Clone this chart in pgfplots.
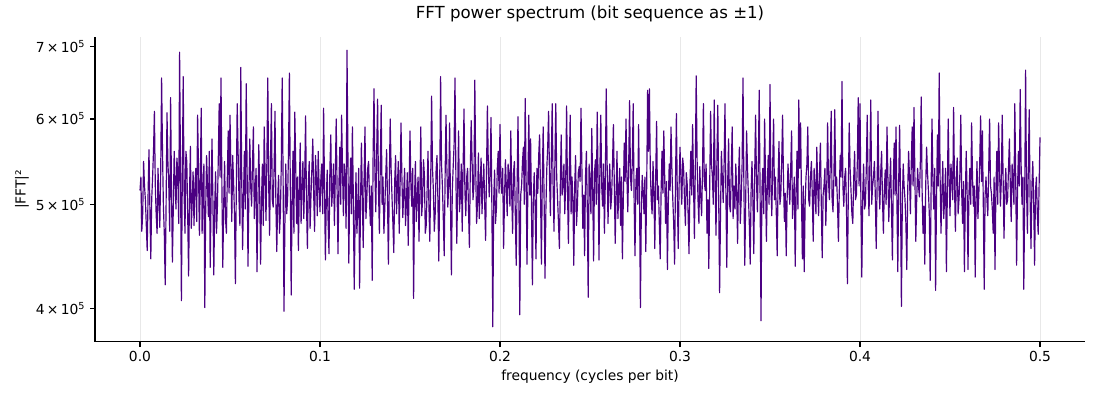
\documentclass[border=0pt]{standalone}
\usepackage{pgfplots}
\pgfplotsset{compat=1.18}
\usepackage{fontspec}
\setmainfont{DejaVu Sans}
\definecolor{indigo}{HTML}{4B0082}
\begin{document}
\begin{tikzpicture}
\path (0,0) rectangle (11in,4in);
\begin{axis}[
  at={(0.95in,0.58in)}, anchor=south west,
  scale only axis, width=9.9in, height=3.05in,
  xmin=-0.025, xmax=0.525,
  ymode=log, ymin=3.727e5, ymax=7.15e5,
  axis x line=bottom, axis y line=left, axis line style={-, line width=0.8pt},
  tick align=outside, major tick length=3.5pt,
  tick style={black, line width=0.8pt},
  xtick={0,0.1,0.2,0.3,0.4,0.5},
  xticklabels={0.0,0.1,0.2,0.3,0.4,0.5},
  ytick={4e5,5e5,6e5,7e5},
  yticklabels={4\,×\,10\textsuperscript{5},5\,×\,10\textsuperscript{5},6\,×\,10\textsuperscript{5},7\,×\,10\textsuperscript{5}},
  yminorticks=false, xminorticks=false,
  tick label style={font=\fontsize{10}{12}\selectfont},
  xmajorgrids, grid style={color=black!9, line width=0.7pt},
  title={FFT power spectrum (bit sequence as ±1)},
  title style={at={(0.5,1.049)}, anchor=center, font=\fontsize{12}{14}\selectfont},
  xlabel={frequency (cycles per bit)},
  xlabel style={at={(axis description cs:0.5,-0.1148)}, anchor=center, font=\fontsize{10}{12}\selectfont},
  ylabel={|FFT|²},
  ylabel style={at={(axis description cs:-0.0737,0.5)}, anchor=center, font=\fontsize{10}{12}\selectfont},
]
\addplot[indigo, line width=0.85pt, line join=round] coordinates {
(0.000,515e3)(0.0005,530e3)(0.001,472e3)(0.0015,490e3)(0.002,548e3)(0.0025,520e3)(0.003,505e3)(0.0035,478e3)(0.004,453e3)(0.0045,512e3)(0.005,562e3)(0.0055,495e3)(0.006,445e3)(0.0065,505e3)(0.007,530e3)(0.0075,560e3)(0.008,610e3)(0.0085,520e3)(0.009,488e3)(0.0095,470e3)
(0.010,540e3)(0.0105,505e3)(0.011,476e3)(0.0115,535e3)(0.012,655e3)(0.0125,560e3)(0.013,498e3)(0.0135,470e3)(0.014,421e3)(0.0145,500e3)(0.015,608e3)(0.0155,548e3)(0.016,520e3)(0.0165,472e3)(0.017,628e3)(0.0175,515e3)(0.018,442e3)(0.0185,496e3)(0.019,560e3)(0.0195,525e3)
(0.020,495e3)(0.0205,552e3)(0.021,535e3)(0.0215,480e3)(0.022,692e3)(0.0225,540e3)(0.023,407e3)(0.0235,530e3)(0.024,657e3)(0.0245,512e3)(0.025,470e3)(0.0255,560e3)(0.026,548e3)(0.0265,488e3)(0.027,429e3)(0.0275,510e3)(0.028,566e3)(0.0285,475e3)(0.029,502e3)(0.0295,536e3)
(0.030,478e3)(0.0305,520e3)(0.031,540e3)(0.0315,482e3)(0.032,605e3)(0.0325,540e3)(0.033,468e3)(0.0335,525e3)(0.034,614e3)(0.0345,470e3)(0.035,512e3)(0.0355,545e3)(0.036,401e3)(0.0365,495e3)(0.037,555e3)(0.0375,520e3)(0.038,487e3)(0.0385,560e3)(0.039,437e3)(0.0395,505e3)
(0.040,575e3)(0.0405,505e3)(0.041,430e3)(0.0415,498e3)(0.042,536e3)(0.0425,470e3)(0.043,497e3)(0.0435,552e3)(0.044,620e3)(0.0445,530e3)(0.045,655e3)(0.0455,520e3)(0.046,437e3)(0.0465,500e3)(0.047,548e3)(0.0475,485e3)(0.048,470e3)(0.0485,528e3)(0.049,585e3)(0.0495,512e3)
(0.050,605e3)(0.0505,540e3)(0.051,482e3)(0.0515,555e3)(0.052,523e3)(0.0525,490e3)(0.053,422e3)(0.0535,515e3)(0.054,620e3)(0.0545,560e3)(0.055,505e3)(0.0555,478e3)(0.056,670e3)(0.0565,530e3)(0.057,454e3)(0.0575,508e3)(0.058,560e3)(0.0585,495e3)(0.059,647e3)(0.0595,540e3)
(0.060,438e3)(0.0605,512e3)(0.061,575e3)(0.0615,520e3)(0.062,498e3)(0.0625,545e3)(0.063,590e3)(0.0635,485e3)(0.064,512e3)(0.0645,540e3)(0.065,433e3)(0.0655,500e3)(0.066,568e3)(0.0665,512e3)(0.067,440e3)(0.0675,505e3)(0.068,545e3)(0.0685,478e3)(0.069,590e3)(0.0695,535e3)
(0.070,483e3)(0.0705,550e3)(0.071,655e3)(0.0715,520e3)(0.072,468e3)(0.0725,548e3)(0.073,620e3)(0.0735,505e3)(0.074,497e3)(0.0745,540e3)(0.075,610e3)(0.0755,500e3)(0.076,452e3)(0.0765,508e3)(0.077,532e3)(0.0775,470e3)(0.078,490e3)(0.0785,545e3)(0.079,655e3)(0.0795,530e3)
(0.080,398e3)(0.0805,480e3)(0.081,545e3)(0.0815,490e3)(0.082,505e3)(0.0825,560e3)(0.083,662e3)(0.0835,520e3)(0.084,412e3)(0.0845,505e3)(0.085,560e3)(0.0855,470e3)(0.086,609e3)(0.0865,545e3)(0.087,480e3)(0.0875,530e3)(0.088,453e3)(0.0885,515e3)(0.089,570e3)(0.0895,480e3)
(0.090,520e3)(0.0905,548e3)(0.091,485e3)(0.0915,530e3)(0.092,604e3)(0.0925,500e3)(0.093,455e3)(0.0935,520e3)(0.094,548e3)(0.0945,475e3)(0.095,510e3)(0.0955,540e3)(0.096,575e3)(0.0965,510e3)(0.097,472e3)(0.0975,555e3)(0.098,530e3)(0.0985,488e3)(0.099,560e3)(0.0995,520e3)
(0.100,492e3)(0.1005,530e3)(0.101,545e3)(0.1015,490e3)(0.102,614e3)(0.1025,520e3)(0.103,444e3)(0.1035,505e3)(0.104,538e3)(0.1045,482e3)(0.105,450e3)(0.1055,540e3)(0.106,580e3)(0.1065,498e3)(0.107,515e3)(0.1075,545e3)(0.108,478e3)(0.1085,530e3)(0.109,600e3)(0.1095,515e3)
(0.110,450e3)(0.1105,520e3)(0.111,565e3)(0.1115,500e3)(0.112,605e3)(0.1125,540e3)(0.113,488e3)(0.1135,545e3)(0.114,530e3)(0.1145,475e3)(0.115,695e3)(0.1155,560e3)(0.116,441e3)(0.1165,515e3)(0.117,552e3)(0.1175,490e3)(0.118,590e3)(0.1185,510e3)(0.119,417e3)(0.1195,480e3)
(0.120,535e3)(0.1205,470e3)(0.121,498e3)(0.1215,540e3)(0.122,418e3)(0.1225,498e3)(0.123,570e3)(0.1235,512e3)(0.124,456e3)(0.1245,530e3)(0.125,590e3)(0.1255,485e3)(0.126,505e3)(0.1265,540e3)(0.127,548e3)(0.1275,505e3)(0.128,478e3)(0.1285,520e3)(0.129,425e3)(0.1295,555e3)
(0.130,640e3)(0.1305,535e3)(0.131,492e3)(0.1315,560e3)(0.132,626e3)(0.1325,515e3)(0.133,470e3)(0.1335,545e3)(0.134,618e3)(0.1345,500e3)(0.135,530e3)(0.1355,470e3)(0.136,496e3)(0.1365,530e3)(0.137,562e3)(0.1375,505e3)(0.138,440e3)(0.1385,525e3)(0.139,600e3)(0.1395,540e3)
(0.140,508e3)(0.1405,480e3)(0.141,451e3)(0.1415,525e3)(0.142,555e3)(0.1425,490e3)(0.143,520e3)(0.1435,548e3)(0.144,470e3)(0.1445,520e3)(0.145,595e3)(0.1455,530e3)(0.146,486e3)(0.1465,512e3)(0.147,540e3)(0.1475,478e3)(0.148,502e3)(0.1485,535e3)(0.149,458e3)(0.1495,520e3)
(0.150,585e3)(0.1505,520e3)(0.151,498e3)(0.1515,540e3)(0.152,409e3)(0.1525,505e3)(0.153,548e3)(0.1535,482e3)(0.154,510e3)(0.1545,530e3)(0.155,462e3)(0.1555,515e3)(0.156,590e3)(0.1565,488e3)(0.157,505e3)(0.1575,550e3)(0.158,532e3)(0.1585,470e3)(0.159,478e3)(0.1595,515e3)
(0.160,560e3)(0.1605,500e3)(0.161,462e3)(0.1615,525e3)(0.162,630e3)(0.1625,540e3)(0.163,515e3)(0.1635,472e3)(0.164,490e3)(0.1645,538e3)(0.165,555e3)(0.1655,505e3)(0.166,443e3)(0.1665,520e3)(0.167,657e3)(0.1675,545e3)(0.168,520e3)(0.1685,485e3)(0.169,448e3)(0.1695,530e3)
(0.170,605e3)(0.1705,540e3)(0.171,497e3)(0.1715,520e3)(0.172,595e3)(0.1725,500e3)(0.173,430e3)(0.1735,515e3)(0.174,542e3)(0.1745,568e3)(0.175,655e3)(0.1755,530e3)(0.176,460e3)(0.1765,520e3)(0.177,585e3)(0.1775,492e3)(0.178,510e3)(0.1785,545e3)(0.179,472e3)(0.1795,540e3)
(0.180,613e3)(0.1805,515e3)(0.181,488e3)(0.1815,530e3)(0.182,540e3)(0.1825,495e3)(0.183,456e3)(0.1835,538e3)(0.184,598e3)(0.1845,548e3)(0.185,505e3)(0.1855,520e3)(0.186,652e3)(0.1865,540e3)(0.187,480e3)(0.1875,500e3)(0.188,558e3)(0.1885,485e3)(0.189,520e3)(0.1895,552e3)
(0.190,490e3)(0.1905,520e3)(0.191,545e3)(0.1915,500e3)(0.192,463e3)(0.1925,535e3)(0.193,617e3)(0.1935,545e3)(0.194,508e3)(0.1945,530e3)(0.195,602e3)(0.1955,495e3)(0.196,385e3)(0.1965,505e3)(0.197,538e3)(0.1975,480e3)(0.198,495e3)(0.1985,540e3)(0.199,560e3)(0.1995,512e3)
(0.200,593e3)(0.2005,525e3)(0.201,512e3)(0.2015,540e3)(0.202,455e3)(0.2025,505e3)(0.203,550e3)(0.2035,520e3)(0.204,488e3)(0.2045,545e3)(0.205,530e3)(0.2055,498e3)(0.206,585e3)(0.2065,512e3)(0.207,470e3)(0.2075,535e3)(0.208,548e3)(0.2085,490e3)(0.209,439e3)(0.2095,520e3)
(0.210,603e3)(0.2105,505e3)(0.211,395e3)(0.2115,510e3)(0.212,520e3)(0.2125,548e3)(0.213,565e3)(0.2135,500e3)(0.214,627e3)(0.2145,530e3)(0.215,440e3)(0.2155,520e3)(0.216,605e3)(0.2165,510e3)(0.217,575e3)(0.2175,495e3)(0.218,421e3)(0.2185,505e3)(0.219,535e3)(0.2195,498e3)
(0.220,445e3)(0.2205,540e3)(0.221,512e3)(0.2215,555e3)(0.222,580e3)(0.2225,515e3)(0.223,440e3)(0.2235,528e3)(0.224,590e3)(0.2245,505e3)(0.225,427e3)(0.2255,495e3)(0.226,540e3)(0.2265,565e3)(0.227,610e3)(0.2275,530e3)(0.228,488e3)(0.2285,550e3)(0.229,620e3)(0.2295,520e3)
(0.230,472e3)(0.2305,548e3)(0.231,620e3)(0.2315,530e3)(0.232,505e3)(0.2325,480e3)(0.233,455e3)(0.2335,520e3)(0.234,580e3)(0.2345,510e3)(0.235,520e3)(0.2355,545e3)(0.236,490e3)(0.2365,525e3)(0.237,617e3)(0.2375,515e3)(0.238,460e3)(0.2385,540e3)(0.239,605e3)(0.2395,490e3)
(0.240,530e3)(0.2405,505e3)(0.241,439e3)(0.2415,520e3)(0.242,555e3)(0.2425,478e3)(0.243,498e3)(0.2435,535e3)(0.244,542e3)(0.2445,525e3)(0.245,614e3)(0.2455,540e3)(0.246,475e3)(0.2465,510e3)(0.247,448e3)(0.2475,530e3)(0.248,560e3)(0.2485,495e3)(0.249,410e3)(0.2495,545e3)
(0.250,520e3)(0.2505,490e3)(0.251,588e3)(0.2515,515e3)(0.252,443e3)(0.2525,535e3)(0.253,550e3)(0.2535,500e3)(0.254,609e3)(0.2545,528e3)(0.255,444e3)(0.2555,540e3)(0.256,605e3)(0.2565,520e3)(0.257,498e3)(0.2575,545e3)(0.258,470e3)(0.2585,525e3)(0.259,640e3)(0.2595,548e3)
(0.260,480e3)(0.2605,520e3)(0.261,545e3)(0.2615,495e3)(0.262,508e3)(0.2625,545e3)(0.263,593e3)(0.2635,522e3)(0.264,460e3)(0.2645,510e3)(0.265,560e3)(0.2655,485e3)(0.266,515e3)(0.2665,540e3)(0.267,478e3)(0.2675,530e3)(0.268,445e3)(0.2685,505e3)(0.269,570e3)(0.2695,525e3)
(0.270,600e3)(0.2705,530e3)(0.271,492e3)(0.2715,545e3)(0.272,624e3)(0.2725,530e3)(0.273,515e3)(0.2735,548e3)(0.274,620e3)(0.2745,505e3)(0.275,448e3)(0.2755,525e3)(0.276,540e3)(0.2765,500e3)(0.277,593e3)(0.2775,512e3)(0.278,401e3)(0.2785,490e3)(0.279,532e3)(0.2795,515e3)
(0.280,490e3)(0.2805,530e3)(0.281,452e3)(0.2815,520e3)(0.282,638e3)(0.2825,560e3)(0.283,640e3)(0.2835,540e3)(0.284,505e3)(0.2845,490e3)(0.285,548e3)(0.2855,515e3)(0.286,455e3)(0.2865,530e3)(0.287,597e3)(0.2875,505e3)(0.288,520e3)(0.2885,480e3)(0.289,445e3)(0.2895,515e3)
(0.290,560e3)(0.2905,512e3)(0.291,585e3)(0.2915,530e3)(0.292,480e3)(0.2925,525e3)(0.293,435e3)(0.2935,500e3)(0.294,545e3)(0.2945,515e3)(0.295,590e3)(0.2955,540e3)(0.296,505e3)(0.2965,480e3)(0.297,440e3)(0.2975,525e3)(0.298,607e3)(0.2985,510e3)(0.299,455e3)(0.2995,520e3)
(0.300,565e3)(0.3005,530e3)(0.301,500e3)(0.3015,552e3)(0.302,540e3)(0.3025,505e3)(0.303,478e3)(0.3035,535e3)(0.304,522e3)(0.3045,490e3)(0.305,450e3)(0.3055,520e3)(0.306,560e3)(0.3065,510e3)(0.307,593e3)(0.3075,525e3)(0.308,465e3)(0.3085,540e3)(0.309,658e3)(0.3095,550e3)
(0.310,505e3)(0.3105,480e3)(0.311,542e3)(0.3115,510e3)(0.312,488e3)(0.3125,535e3)(0.313,620e3)(0.3135,525e3)(0.314,515e3)(0.3145,545e3)(0.315,470e3)(0.3155,505e3)(0.316,436e3)(0.3165,520e3)(0.317,610e3)(0.3175,545e3)(0.318,530e3)(0.3185,500e3)(0.319,625e3)(0.3195,530e3)
(0.320,468e3)(0.3205,550e3)(0.321,618e3)(0.3215,505e3)(0.322,414e3)(0.3225,490e3)(0.323,560e3)(0.3235,530e3)(0.324,502e3)(0.3245,545e3)(0.325,620e3)(0.3255,510e3)(0.326,437e3)(0.3265,525e3)(0.327,575e3)(0.3275,500e3)(0.328,492e3)(0.3285,540e3)(0.329,590e3)(0.3295,485e3)
(0.330,520e3)(0.3305,495e3)(0.331,545e3)(0.3315,512e3)(0.332,460e3)(0.3325,530e3)(0.333,565e3)(0.3335,480e3)(0.334,505e3)(0.3345,545e3)(0.335,655e3)(0.3355,520e3)(0.336,439e3)(0.3365,505e3)(0.337,585e3)(0.3375,540e3)(0.338,510e3)(0.3385,480e3)(0.339,440e3)(0.3395,515e3)
(0.340,548e3)(0.3405,505e3)(0.341,450e3)(0.3415,535e3)(0.342,605e3)(0.3425,525e3)(0.343,492e3)(0.3435,545e3)(0.344,638e3)(0.3445,510e3)(0.345,390e3)(0.3455,515e3)(0.346,540e3)(0.3465,490e3)(0.347,600e3)(0.3475,530e3)(0.348,462e3)(0.3485,520e3)(0.349,555e3)(0.3495,500e3)
(0.350,646e3)(0.3505,520e3)(0.351,488e3)(0.3515,545e3)(0.352,600e3)(0.3525,505e3)(0.353,530e3)(0.3535,490e3)(0.354,448e3)(0.3545,530e3)(0.355,572e3)(0.3555,500e3)(0.356,510e3)(0.3565,548e3)(0.357,605e3)(0.3575,525e3)(0.358,482e3)(0.3585,512e3)(0.359,448e3)(0.3595,505e3)
(0.360,545e3)(0.3605,520e3)(0.361,500e3)(0.3615,540e3)(0.362,585e3)(0.3625,485e3)(0.363,505e3)(0.3635,530e3)(0.364,438e3)(0.3645,510e3)(0.365,560e3)(0.3655,495e3)(0.366,625e3)(0.3665,540e3)(0.367,595e3)(0.3675,505e3)(0.368,445e3)(0.3685,520e3)(0.369,433e3)(0.3695,498e3)
(0.370,530e3)(0.3705,545e3)(0.371,590e3)(0.3715,505e3)(0.372,498e3)(0.3725,530e3)(0.373,548e3)(0.3735,510e3)(0.374,462e3)(0.3745,540e3)(0.375,520e3)(0.3755,490e3)(0.376,565e3)(0.3765,520e3)(0.377,488e3)(0.3775,535e3)(0.378,570e3)(0.3785,500e3)(0.379,446e3)(0.3795,510e3)
(0.380,520e3)(0.3805,540e3)(0.381,478e3)(0.3815,515e3)(0.382,595e3)(0.3825,525e3)(0.383,505e3)(0.3835,548e3)(0.384,610e3)(0.3845,505e3)(0.385,492e3)(0.3855,530e3)(0.386,612e3)(0.3865,520e3)(0.387,530e3)(0.3875,500e3)(0.388,462e3)(0.3885,515e3)(0.389,555e3)(0.3895,530e3)
(0.390,650e3)(0.3905,520e3)(0.391,498e3)(0.3915,530e3)(0.392,540e3)(0.3925,495e3)(0.393,422e3)(0.3935,510e3)(0.394,595e3)(0.3945,540e3)(0.395,515e3)(0.3955,490e3)(0.396,480e3)(0.3965,528e3)(0.397,560e3)(0.3975,505e3)(0.398,510e3)(0.3985,545e3)(0.399,628e3)(0.3995,520e3)
(0.400,620e3)(0.4005,505e3)(0.401,428e3)(0.4015,510e3)(0.402,545e3)(0.4025,495e3)(0.403,500e3)(0.4035,540e3)(0.404,605e3)(0.4045,525e3)(0.405,488e3)(0.4055,548e3)(0.406,625e3)(0.4065,500e3)(0.407,520e3)(0.4075,530e3)(0.408,548e3)(0.4085,510e3)(0.409,455e3)(0.4095,520e3)
(0.410,610e3)(0.4105,520e3)(0.411,495e3)(0.4115,535e3)(0.412,560e3)(0.4125,505e3)(0.413,470e3)(0.4135,515e3)(0.414,538e3)(0.4145,500e3)(0.415,590e3)(0.4155,530e3)(0.416,482e3)(0.4165,520e3)(0.417,552e3)(0.4175,495e3)(0.418,444e3)(0.4185,525e3)(0.419,570e3)(0.4195,510e3)
(0.420,590e3)(0.4205,505e3)(0.421,433e3)(0.4215,525e3)(0.422,592e3)(0.4225,510e3)(0.423,402e3)(0.4235,500e3)(0.424,545e3)(0.4245,520e3)(0.425,505e3)(0.4255,480e3)(0.426,435e3)(0.4265,515e3)(0.427,560e3)(0.4275,530e3)(0.428,490e3)(0.4285,548e3)(0.429,590e3)(0.4295,520e3)
(0.430,615e3)(0.4305,530e3)(0.431,462e3)(0.4315,505e3)(0.432,540e3)(0.4325,520e3)(0.433,508e3)(0.4335,545e3)(0.434,629e3)(0.4345,515e3)(0.435,470e3)(0.4355,498e3)(0.436,440e3)(0.4365,520e3)(0.437,565e3)(0.4375,535e3)(0.438,515e3)(0.4385,490e3)(0.439,425e3)(0.4395,515e3)
(0.440,600e3)(0.4405,525e3)(0.441,495e3)(0.4415,540e3)(0.442,416e3)(0.4425,505e3)(0.443,580e3)(0.4435,520e3)(0.444,662e3)(0.4445,530e3)(0.445,470e3)(0.4455,515e3)(0.446,548e3)(0.4465,485e3)(0.447,505e3)(0.4475,540e3)(0.448,433e3)(0.4485,510e3)(0.449,600e3)(0.4495,530e3)
(0.450,488e3)(0.4505,545e3)(0.451,530e3)(0.4515,505e3)(0.452,615e3)(0.4525,520e3)(0.453,472e3)(0.4535,530e3)(0.454,552e3)(0.4545,490e3)(0.455,505e3)(0.4555,535e3)(0.456,605e3)(0.4565,512e3)(0.457,480e3)(0.4575,525e3)(0.458,433e3)(0.4585,505e3)(0.459,560e3)(0.4595,515e3)
(0.460,435e3)(0.4605,510e3)(0.461,540e3)(0.4615,500e3)(0.462,595e3)(0.4625,530e3)(0.463,498e3)(0.4635,520e3)(0.464,428e3)(0.4645,505e3)(0.465,548e3)(0.4655,485e3)(0.466,510e3)(0.4665,545e3)(0.467,604e3)(0.4675,525e3)(0.468,585e3)(0.4685,500e3)(0.469,417e3)(0.4695,510e3)
(0.470,530e3)(0.4705,505e3)(0.471,488e3)(0.4715,540e3)(0.472,600e3)(0.4725,520e3)(0.473,512e3)(0.4735,495e3)(0.474,470e3)(0.4745,530e3)(0.475,435e3)(0.4755,515e3)(0.476,560e3)(0.4765,500e3)(0.477,595e3)(0.4775,540e3)(0.478,498e3)(0.4785,525e3)(0.479,605e3)(0.4795,530e3)
(0.480,465e3)(0.4805,515e3)(0.481,540e3)(0.4815,500e3)(0.482,505e3)(0.4825,540e3)(0.483,575e3)(0.4835,520e3)(0.484,482e3)(0.4845,545e3)(0.485,528e3)(0.4855,500e3)(0.486,620e3)(0.4865,530e3)(0.487,439e3)(0.4875,515e3)(0.488,560e3)(0.4885,520e3)(0.489,639e3)(0.4895,545e3)
(0.490,500e3)(0.4905,530e3)(0.491,417e3)(0.4915,510e3)(0.492,666e3)(0.4925,520e3)(0.493,470e3)(0.4935,540e3)(0.494,612e3)(0.4945,505e3)(0.495,455e3)(0.4955,520e3)(0.496,548e3)(0.4965,500e3)(0.497,439e3)(0.4975,515e3)(0.498,530e3)(0.4985,490e3)(0.499,469e3)
(0.500,577e3)
};
\end{axis}
\end{tikzpicture}
\end{document}
